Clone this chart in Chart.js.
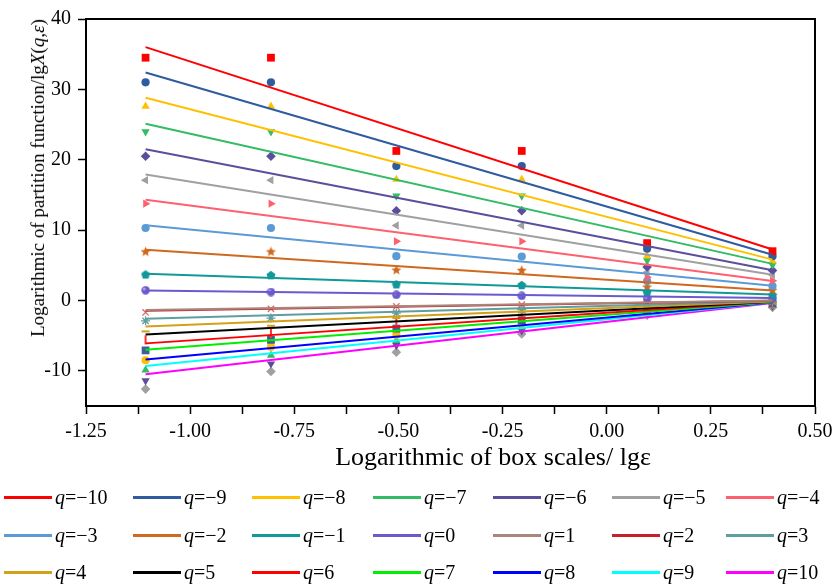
<!DOCTYPE html>
<html><head><meta charset="utf-8">
<script src="https://cdn.jsdelivr.net/npm/chart.js@4.4.1/dist/chart.umd.min.js"></script>
<style>
html,body{margin:0;padding:0;background:#fff;}
#wrap{position:relative;width:839px;height:586px;overflow:hidden;font-family:"Liberation Serif","Times New Roman",serif;color:#000;background:#fff;}
#c{position:absolute;left:0;top:0;}
.ytitle{position:absolute;left:38px;top:178px;transform:translate(-50%,-50%) rotate(-90deg);white-space:nowrap;font-size:19px;}
.xtitle{position:absolute;left:493px;top:457px;transform:translate(-50%,-50%);white-space:nowrap;font-size:26px;}
.lg{position:absolute;height:24px;display:flex;align-items:center;white-space:nowrap;font-size:20px;line-height:24px;}
.lg .sw{width:48px;height:3px;margin-right:3px;}
</style></head>
<body><div id="wrap"><canvas id="c" width="839" height="586" style="width:839px;height:586px"></canvas>
<div class="ytitle">Logarithmic of partition function/lg<i>X</i>(<i>q</i>,<i>ε</i>)</div>
<div class="xtitle">Logarithmic of box scales/ lgε</div>
<div id="legend"></div></div>
<script>
// ---- data ----
const xValues = [-1.107, -0.806, -0.505, -0.204, 0.097, 0.398];
const qLabels = ['−10','−9','−8','−7','−6','−5','−4','−3','−2','−1','0','1','2','3','4','5','6','7','8','9','10'];
const xTickLabels = ['-1.25','-1.00','-0.75','-0.50','-0.25','0.00','0.25','0.50'];
const yTickLabels = ['-10','0','10','20','30','40'];

const q_m10 = [34.5, 34.5, 21.25, 21.25, 8.15, 7.0];
const q_m9  = [31.0, 31.0, 19.1, 19.1, 7.35, 6.3];
const q_m8  = [27.6, 27.6, 17.2, 17.2, 6.3, 5.6];
const q_m7  = [24.0, 24.0, 14.85, 14.85, 5.7, 5.05];
const q_m6  = [20.5, 20.5, 12.75, 12.75, 4.75, 4.25];
const q_m5  = [17.1, 17.1, 10.65, 10.65, 4.0, 3.6];
const q_m4  = [13.75, 13.75, 8.4, 8.4, 3.3, 2.8];
const q_m3  = [10.3, 10.3, 6.3, 6.25, 2.75, 2.05];
const q_m2  = [6.9, 6.9, 4.3, 4.25, 1.9, 1.45];
const q_m1  = [3.7, 3.6, 2.3, 2.2, 1.2, 0.8];
const q_0   = [1.45, 1.2, 0.8, 0.65, 0.25, 0.3];
const q_1   = [-1.6, -1.15, -0.8, -0.55, -0.35, -0.1];
const q_2   = [-1.7, -1.2, -0.85, -0.6, -0.4, -0.1];
const q_3   = [-2.9, -2.5, -1.8, -1.3, -0.6, -0.2];
const q_4   = [-4.4, -3.6, -2.5, -1.7, -0.8, -0.3];
const q_5   = [-5.6, -4.7, -3.2, -2.2, -1.0, -0.35];
const q_6   = [-7.1, -5.6, -4.0, -2.8, -1.3, -0.45];
const q_7   = [-8.5, -6.6, -4.9, -3.3, -1.5, -0.55];
const q_8   = [-9.9, -7.8, -5.7, -3.8, -1.7, -0.65];
const q_9   = [-11.4, -9.0, -6.4, -4.3, -1.9, -0.8];
const q_10  = [-12.6, -10.1, -7.35, -4.75, -2.1, -1.0];

// fitted line values at the first and last box scale
const fitStart = [36.0, 32.4, 28.8, 25.1, 21.5, 17.9, 14.3, 10.7, 7.2, 3.8, 1.4, -1.35, -1.45, -2.6, -3.7, -4.85, -6.1, -7.0, -8.4, -9.3, -10.5];
const fitEnd   = [7.25, 6.5, 5.8, 5.2, 4.3, 3.65, 2.75, 2.1, 1.4, 0.85, 0.35, 0.0, -0.05, -0.1, -0.15, -0.2, -0.2, -0.25, -0.3, -0.3, -0.35];

const seriesValues = [q_m10,q_m9,q_m8,q_m7,q_m6,q_m5,q_m4,q_m3,q_m2,q_m1,q_0,q_1,q_2,q_3,q_4,q_5,q_6,q_7,q_8,q_9,q_10];

// ---- styles ----
const lineColors = ['#ff0000','#2e5c9e','#ffc000','#33bb66','#5b4e9c','#a0a0a0','#ff6070','#5b9bd5','#d0681e','#119999','#6a5acd','#a8877a','#c8202a','#5f9ea0','#d4a017','#000000','#ff0000','#00ee00','#0000ff','#00ffff','#ff00ff'];
const markerColors = ['#ff0000','#2e5c9e','#ffc000','#33bb66','#5b4e9c','#a0a0a0','#ff6070','#5b9bd5','#d0681e','#119999','#6a5acd','#a8877a','#e06868','#5f9ea0','#d4a017','#ff3030','#3d5f9c','#ffc000','#33bb66','#5b4e9c','#a0a0a0'];

function shapeCanvas(kind, color, size){
  const c = document.createElement('canvas');
  c.width = size; c.height = size;
  const g = c.getContext('2d');
  const cx = size/2, cy = size/2, R = size/2 - 0.3;
  g.fillStyle = color;
  g.beginPath();
  if (kind === 'star5'){
    for (let i=0;i<10;i++){
      const r = i%2===0 ? R : R*0.45;
      const a = -Math.PI/2 + i*Math.PI/5;
      const px = cx + r*Math.cos(a), py = cy + r*Math.sin(a);
      i===0 ? g.moveTo(px,py) : g.lineTo(px,py);
    }
  } else if (kind === 'pentagon'){
    for (let i=0;i<5;i++){
      const a = -Math.PI/2 + i*2*Math.PI/5;
      const px = cx + R*Math.cos(a), py = cy + R*Math.sin(a)+0.5;
      i===0 ? g.moveTo(px,py) : g.lineTo(px,py);
    }
  } else if (kind === 'sphere'){
    g.arc(cx,cy,R,0,Math.PI*2);
    g.fill();
    g.beginPath();
    g.fillStyle = 'rgba(255,255,255,0.45)';
    g.arc(cx-1.3,cy-1.3,R*0.35,0,Math.PI*2);
  }
  g.closePath();
  g.fill();
  return c;
}

// marker style per series: [pointStyle, radius, rotation, borderWidth]
const markerStyles = [
  ['rect',5.5,0,0], ['circle',4.1,0,0], ['triangle',4.8,0,0], ['triangle',4.8,180,0],
  ['rectRot',4.8,0,0], ['triangle',4.8,-90,0], ['triangle',4.8,90,0], ['circle',4.1,0,0],
  [shapeCanvas('star5','#d0681e',11),5,0,0], [shapeCanvas('pentagon','#119999',10),5,0,0],
  [shapeCanvas('sphere','#6a5acd',9),4.5,0,0],
  ['circle',0,0,0], ['crossRot',4.5,0,1.3], ['star',4.5,0,1.3], ['line',4,0,2],
  ['line',4.5,90,2], ['rect',5.5,0,0], ['circle',4.1,0,0], ['triangle',4.8,0,0],
  ['triangle',4.8,180,0], ['rectRot',4.8,0,0]
];

const datasets = [];
// fitted lines (on top)
for (let i=0;i<seriesValues.length;i++){
  datasets.push({
    label: 'q=' + qLabels[i],
    data: [{x:xValues[0], y:fitStart[i]}, {x:xValues[xValues.length-1], y:fitEnd[i]}],
    showLine: true, borderColor: lineColors[i], backgroundColor: lineColors[i],
    borderWidth: 2, pointRadius: 0, fill: false
  });
}
// measured points
for (let i=0;i<seriesValues.length;i++){
  const m = markerStyles[i];
  datasets.push({
    label: 'pts q=' + qLabels[i],
    data: xValues.map((x,j)=>({x:x, y:seriesValues[i][j]})),
    showLine: false,
    pointStyle: m[0], pointRadius: m[1], pointRotation: m[2], pointBorderWidth: m[3],
    pointBackgroundColor: markerColors[i], pointBorderColor: markerColors[i]
  });
}

const framePlugin = {
  id: 'frame',
  afterDatasetsDraw(chart){
    const {ctx, chartArea:a} = chart;
    ctx.save();
    ctx.strokeStyle = '#000'; ctx.lineWidth = 2;
    ctx.beginPath();
    ctx.moveTo(a.left, a.top); ctx.lineTo(a.right, a.top); ctx.lineTo(a.right, a.bottom);
    ctx.stroke();
    ctx.restore();
  }
};

const tickFont = {family:'"Liberation Serif","Times New Roman",serif', size:20};

new Chart(document.getElementById('c'), {
  type: 'scatter',
  data: {datasets},
  plugins: [framePlugin],
  options: {
    responsive: false, animation: false, devicePixelRatio: 1,
    layout: {padding: {left:0, right:24, top:19, bottom:0}},
    plugins: {legend:{display:false}, tooltip:{enabled:false}},
    scales: {
      x: {
        type: 'linear', min: -1.25, max: 0.5,
        afterFit(s){ s.height = 586 - 406; },
        ticks: {
          stepSize: 0.125, autoSkip: false, maxRotation: 0, padding: 6,
          color: '#000', font: tickFont,
          callback(v){
            const k = Math.round((v + 1.25) / 0.25);
            if (Math.abs((v + 1.25) / 0.25 - k) > 1e-6) return '';
            return xTickLabels[k] ?? '';
          }
        },
        grid: {drawOnChartArea:false, drawTicks:true, tickLength:8, tickWidth:1.5, tickColor:'#000'},
        border: {display:true, color:'#000', width:2}
      },
      y: {
        type: 'linear', min: -15, max: 40,
        afterFit(s){ s.width = 86; },
        ticks: {
          stepSize: 10, padding: 7, color: '#000', font: tickFont,
          callback(v){
            const k = Math.round((v + 10) / 10);
            if (Math.abs((v + 10) / 10 - k) > 1e-6) return '';
            return yTickLabels[k] ?? '';
          }
        },
        grid: {drawOnChartArea:false, drawTicks:true, tickLength:8, tickWidth:1.5,
               tickColor: c => (c.tick && c.tick.value === -15) ? 'rgba(0,0,0,0)' : '#000'},
        border: {display:true, color:'#000', width:2}
      }
    }
  }
});

// legend (3 rows x 7 columns)
const legendColX = [4, 133, 252, 373, 493, 612, 726];
const legendRowY = [497, 535, 572];
const lg = document.getElementById('legend');
qLabels.forEach((q,i)=>{
  const d = document.createElement('div');
  d.className = 'lg';
  d.style.left = legendColX[i % 7] + 'px';
  d.style.top = (legendRowY[Math.floor(i / 7)] - 12) + 'px';
  d.innerHTML = '<span class="sw" style="background:' + lineColors[i] + '"></span><span><i>q</i>=' + q + '</span>';
  lg.appendChild(d);
});
</script>
</body></html>
